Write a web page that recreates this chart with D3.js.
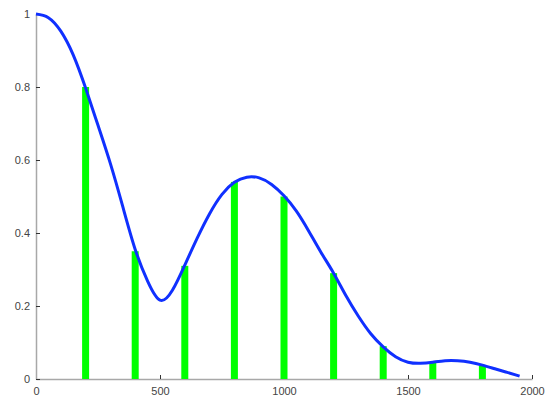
<html>
<head>
  <script src="https://d3js.org/d3.v7.min.js"></script>
  <style>
    body { margin: 0; background: white; }
    .axis text { font-family: "Liberation Sans", Arial, sans-serif; font-size: 11px; fill: #444; }
    .axis .domain { stroke: #a8a8a8; stroke-width: 1.5px; }
    .axis .tick line { stroke: #333; }
  </style>
</head>
<body>
  <svg id="chart" width="546" height="401"></svg>
  <script>
    // bar positions and heights
    const barX = [200, 400, 600, 800, 1000, 1200, 1400, 1600, 1800];
    const barY = [0.80, 0.35, 0.31, 0.54, 0.50, 0.29, 0.09, 0.045, 0.037];

    // blue curve
    const curveX = [0, 50, 100, 150, 200, 250, 300, 350, 400, 450, 500, 550, 600, 650, 700, 750,
                    800, 850, 900, 950, 1000, 1050, 1100, 1150, 1200, 1250, 1300, 1350, 1400, 1450,
                    1500, 1550, 1600, 1650, 1700, 1750, 1800, 1850, 1900, 1950];
    const curveY = [1.0, 0.99, 0.953, 0.888, 0.797, 0.695, 0.59, 0.472, 0.355, 0.268, 0.216, 0.243, 0.312, 0.386, 0.453, 0.506,
                    0.539, 0.553, 0.551, 0.533, 0.502, 0.46, 0.405, 0.346, 0.29, 0.228, 0.172, 0.124, 0.088, 0.061,
                    0.046, 0.043, 0.046, 0.05, 0.05, 0.046, 0.038, 0.028, 0.018, 0.008];

    const xTicks = [0, 500, 1000, 1500, 2000];
    const yTicks = [0, 0.2, 0.4, 0.6, 0.8, 1];

    const svg = d3.select("#chart");
    const x = d3.scaleLinear().domain([0, 2000]).range([36, 532]);
    const y = d3.scaleLinear().domain([0, 1]).range([379, 14]);

    // axes
    svg.append("g").attr("class", "axis")
      .attr("transform", "translate(0,379)")
      .call(d3.axisBottom(x).tickValues(xTicks).tickSizeInner(-4).tickSizeOuter(0).tickPadding(8)
        .tickFormat(d3.format("d")));
    svg.append("g").attr("class", "axis")
      .attr("transform", "translate(36,0)")
      .call(d3.axisLeft(y).tickValues(yTicks).tickSizeInner(-4).tickSizeOuter(0).tickPadding(6)
        .tickFormat(d => d3.format("~g")(d)));

    // bars
    const barW = 7;
    svg.append("g").selectAll("rect")
      .data(barX.map((d, i) => ({ x: d, y: barY[i] })))
      .join("rect")
      .attr("x", d => x(d.x) - barW / 2)
      .attr("y", d => y(d.y))
      .attr("width", barW)
      .attr("height", d => y(0) - y(d.y))
      .attr("fill", "#00ff00");

    // curve
    const line = d3.line()
      .x(d => x(d[0]))
      .y(d => y(d[1]))
      .curve(d3.curveNatural);
    svg.append("path")
      .datum(curveX.map((d, i) => [d, curveY[i]]))
      .attr("d", line)
      .attr("fill", "none")
      .attr("stroke", "#1030ff")
      .attr("stroke-width", 3);
  </script>
</body>
</html>
